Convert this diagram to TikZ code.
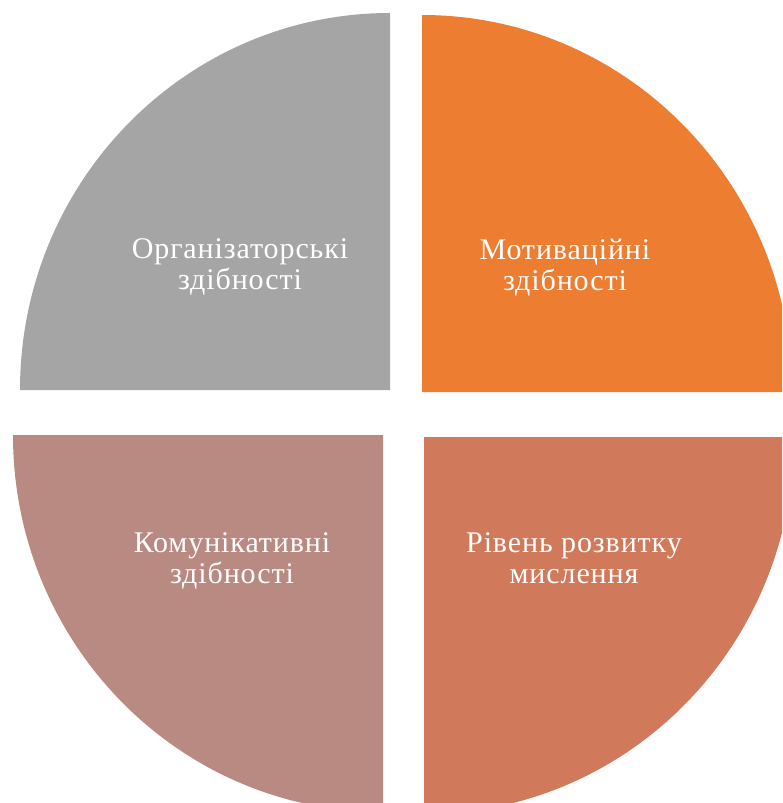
\documentclass[tikz,border=0pt]{standalone}
\usepackage{fontspec}
\setmainfont{Liberation Serif}[LetterSpace=3]
\definecolor{cgray}{RGB}{165,165,165}
\definecolor{corange}{RGB}{237,125,49}
\definecolor{crose}{RGB}{185,138,130}
\definecolor{cterra}{RGB}{209,121,91}
\tikzset{
  lbl/.style={text=white, font=\fontsize{30}{31}\selectfont, align=center, inner sep=0pt, anchor=base},
  quad/.style={draw=none}
}
\begin{document}
\begin{tikzpicture}[x=1pt,y=-1pt]
\useasboundingbox (0,0) rectangle (782,803);
\begin{scope}
\clip (0,0) rectangle (782,803);
\fill[cgray] (390,390) -- (20,390) arc[start angle=180, end angle=270, x radius=370, y radius=377] -- cycle;
\fill[corange] (422,392) -- (422,15) arc[start angle=270, end angle=360, x radius=370, y radius=377] -- cycle;
\fill[crose] (383,435) -- (383,812) arc[start angle=90, end angle=180, x radius=370, y radius=377] -- cycle;
\fill[cterra] (424,437) -- (794,437) arc[start angle=0, end angle=90, x radius=370, y radius=377] -- cycle;
\end{scope}
\node[lbl] (t1) at (240,289) {Організаторські\\здібності};
\node[lbl] (t2) at (565,290) {Мотиваційні\\здібності};
\node[lbl] (t3) at (232,583) {Комунікативні\\здібності};
\node[lbl] (t4) at (574,583) {Рівень розвитку\\мислення};
\end{tikzpicture}
\end{document}
